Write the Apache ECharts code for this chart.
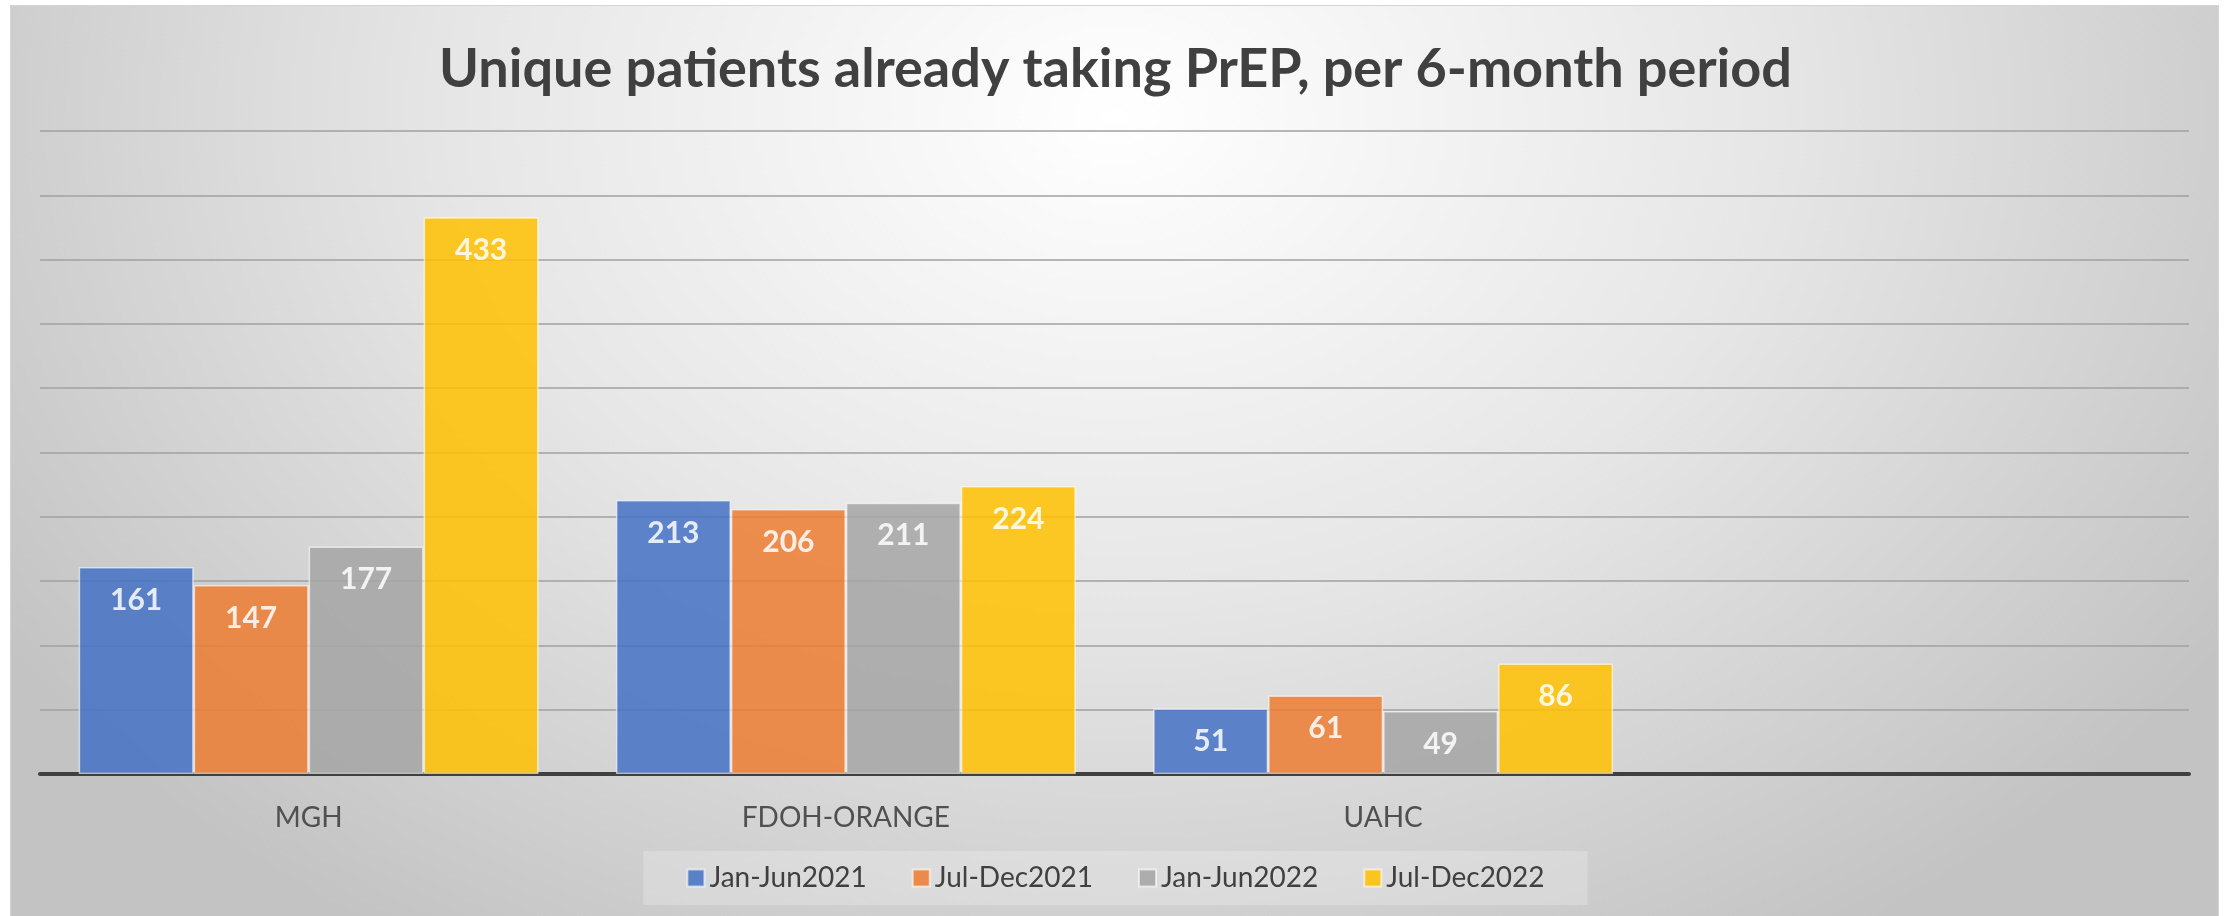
<!DOCTYPE html>
<html>
<head>
<meta charset="utf-8">
<title>Unique patients already taking PrEP</title>
<script src="https://cdn.jsdelivr.net/npm/echarts@6/dist/echarts.min.js"></script>
<style>
  html, body { margin: 0; padding: 0; background: #fff; }
  #bg {
    position: absolute; left: 10px; top: 5px; width: 2209px; height: 911px;
    border-top: 1px solid #d4d4d4; border-left: 1px solid #d4d4d4; border-right: 1px solid #d4d4d4;
    box-sizing: border-box;
    background: radial-gradient(ellipse 60% 108% at 50% 12%, #ffffff 0%, #e6e6e6 50%, #c3c3c3 100%);
  }
  #chart { position: absolute; left: 0; top: 0; width: 2231px; height: 916px; }
</style>
</head>
<body>
<div id="bg"></div>
<div id="chart"></div>
<script>
const categories = ['MGH', 'FDOH-ORANGE', 'UAHC', '']
const seriesNames = ['Jan-Jun2021', 'Jul-Dec2021', 'Jan-Jun2022', 'Jul-Dec2022']
const janJun2021 = [161, 213, 51, null]
const julDec2021 = [147, 206, 61, null]
const janJun2022 = [177, 211, 49, null]
const julDec2022 = [433, 224, 86, null]
const colors = ['#4472c4', '#ed7d31', '#a5a5a5', '#ffc000']

const font = 'Lato, "Open Sans", sans-serif'

function makeSeries(name, data) {
  return {
    name: name,
    type: 'bar',
    data: data,
    barGap: '0%',
    barCategoryGap: '14.4%',
    itemStyle: {
      opacity: 0.85,
      borderColor: 'rgba(255,255,255,0.7)',
      borderWidth: 1.5
    },
    label: {
      show: true,
      position: 'insideTop',
      distance: 18,
      color: '#fff',
      fontFamily: font,
      fontWeight: 'bold',
      fontSize: 30
    },
    animation: false
  }
}

const chart = echarts.init(document.getElementById('chart'))
chart.setOption({
  backgroundColor: 'transparent',
  color: colors,
  title: {
    text: 'Unique patients already taking PrEP, per 6-month period',
    left: 'center',
    top: 38,
    textStyle: {
      fontFamily: font,
      fontWeight: 'bold',
      fontSize: 54,
      color: '#404040'
    }
  },
  legend: {
    data: seriesNames,
    top: 851,
    left: 'center',
    icon: 'rect',
    itemWidth: 17,
    itemHeight: 17,
    itemGap: 45,
    padding: [13, 43, 13, 43],
    backgroundColor: 'rgba(255,255,255,0.22)',
    textStyle: {
      fontFamily: font,
      fontSize: 28,
      color: '#404040'
    }
  },
  grid: {
    left: 40,
    right: 42,
    top: 131,
    bottom: 142
  },
  xAxis: {
    type: 'category',
    data: categories,
    axisTick: { show: false },
    axisLine: { lineStyle: { color: '#404040', width: 4 } },
    axisLabel: {
      margin: 30,
      fontFamily: font,
      fontSize: 28,
      color: '#505050'
    }
  },
  yAxis: {
    type: 'value',
    min: 0,
    max: 500,
    interval: 50,
    axisLabel: { show: false },
    axisLine: { show: false },
    axisTick: { show: false },
    splitLine: { lineStyle: { color: '#a0a0a0', width: 1.5 } }
  },
  series: [
    makeSeries(seriesNames[0], janJun2021),
    makeSeries(seriesNames[1], julDec2021),
    makeSeries(seriesNames[2], janJun2022),
    makeSeries(seriesNames[3], julDec2022)
  ]
})
</script>
</body>
</html>
